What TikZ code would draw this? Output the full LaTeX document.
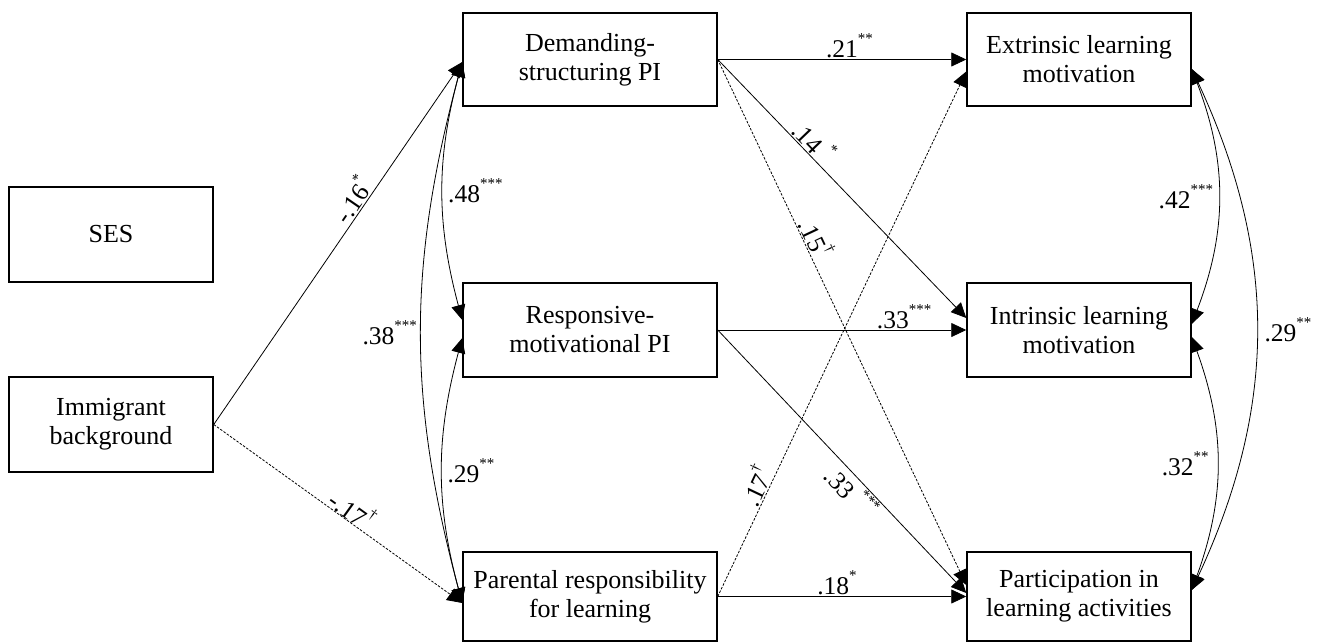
\documentclass[tikz,border=0pt]{standalone}
\usepackage{fontspec}
\setmainfont{Liberation Serif}
\usetikzlibrary{arrows.meta}

% raised significance marks after a coefficient
\newcommand\sigmark[1]{\raisebox{0.55em}{\fontsize{15}{15}\selectfont #1}}

\begin{document}
\begin{tikzpicture}[x=1pt,y=-1pt,
  box/.style={draw, line width=1.5pt, align=center, inner sep=0pt,
    font=\fontsize{26}{29}\selectfont},
  lab/.style={font=\fontsize{25.5}{25.5}\selectfont, inner sep=1pt},
  path/.style={line width=0.8pt, -{Triangle[length=15pt,width=14pt]}},
  weak/.style={path, dash pattern=on 2.5pt off 1.5pt},
  cov/.style={line width=0.8pt, {Triangle[length=15pt,width=14pt]}-{Triangle[length=15pt,width=14pt]}}]

\useasboundingbox (0,0) rectangle (1327,642);

% variables
\node[box, minimum width=204pt, minimum height=95pt] (ses) at (111,234.5) {SES};
\node[box, minimum width=204pt, minimum height=95pt] (imm) at (111,424.5) {Immigrant\\background};
\node[box, minimum width=254pt, minimum height=93pt] (dem) at (590,59.5) {Demanding-\\structuring PI};
\node[box, minimum width=254pt, minimum height=94pt] (res) at (590,330) {Responsive-\\motivational PI};
\node[box, minimum width=254pt, minimum height=89pt] (par) at (590,596.5) {Parental responsibility\\for learning};
\node[box, minimum width=224pt, minimum height=93pt] (ext) at (1079,59.5) {Extrinsic learning\\motivation};
\node[box, minimum width=224pt, minimum height=94pt] (int) at (1079,330) {Intrinsic learning\\motivation};
\node[box, minimum width=224pt, minimum height=89pt] (pai) at (1079,596.5) {Participation in\\learning activities};

% immigrant background -> parental involvement
\draw[path] (imm.east) -- node[lab, pos=0.6, above, sloped] {-.16\sigmark{*}} ([yshift=-2.5pt]dem.west);
\draw[weak] (imm.east) -- node[lab, pos=0.53, above, sloped, inner sep=0pt] {-.17\sigmark{\textdagger}} ([yshift=-6.5pt]par.west);

% parental involvement -> outcomes
\draw[path] (dem.east) -- node[lab, pos=0.53, above] {.21\sigmark{**}} (ext.west);
\draw[path] (dem.east) -- node[lab, pos=0.35, above, sloped] {.14 \sigmark{*}} ([yshift=12pt]int.west);
\draw[weak] (dem.east) -- node[lab, pos=0.35, above, sloped] {.15\sigmark{\textdagger}} ([yshift=11.5pt]pai.west);
\draw[path] (res.east) -- node[lab, pos=0.75, above] {.33\sigmark{***}} (int.west);
\draw[path] (res.east) -- node[lab, pos=0.58, below, sloped] {.33 \sigmark{***}} ([yshift=3.5pt]pai.west);
\draw[path] (par.east) -- node[lab, pos=0.48, above] {.18\sigmark{*}} (pai.west);
\draw[weak] (par.east) -- node[lab, pos=0.2, above, sloped] {.17\sigmark{\textdagger}} ([yshift=-12pt]ext.west);

% correlations among parental involvement
\draw[cov] ([yshift=-2.5pt]dem.west) to[bend right=15]
  node[lab, midway, right, inner sep=5pt] {.48\sigmark{***}} ([yshift=10pt]res.west);
\draw[cov] ([yshift=-2.5pt]dem.west) to[bend right=15]
  node[lab, midway, left, inner sep=4pt] {.38\sigmark{***}} ([yshift=-6.5pt]par.west);
\draw[cov] ([yshift=-8pt]res.west) to[bend right=15]
  node[lab, midway, right, inner sep=5pt] {.29\sigmark{**}} ([yshift=-6.5pt]par.west);

% correlations among outcomes
\draw[cov] ([yshift=-9.5pt]ext.east) to[bend left=21]
  node[lab, midway, left, inner sep=5pt] {.42\sigmark{***}} ([yshift=6pt]int.east);
\draw[cov] ([yshift=-7pt]int.east) to[bend left=20]
  node[lab, midway, left, inner sep=8pt] {.32\sigmark{**}} ([yshift=6.5pt]pai.east);
\draw[cov] ([yshift=-9.5pt]ext.east) to[bend left=25]
  node[lab, midway, right, inner sep=8pt] {.29\sigmark{**}} ([yshift=6.5pt]pai.east);

\end{tikzpicture}
\end{document}
